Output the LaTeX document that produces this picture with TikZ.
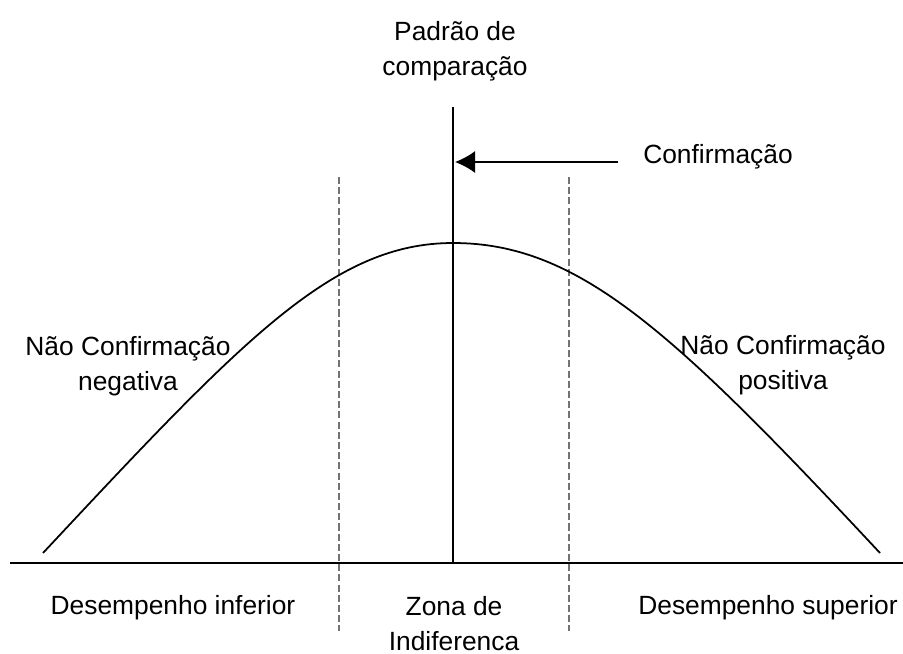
\documentclass[tikz,border=0pt]{standalone}
\usepackage{fontspec}
\setmainfont{Liberation Sans}
\usetikzlibrary{positioning, calc, arrows.meta}

\begin{document}
\begin{tikzpicture}[>={Latex[length=4mm, width=4.4mm]}, x=0.02cm, y=-0.02cm,
    every node/.style={font=\fontsize{15}{19.9}\selectfont, align=center, inner sep=0pt},
    zone/.style={black!55, line width=1.1pt, dash pattern=on 4pt off 1.8pt}]

    \useasboundingbox (0,0) rectangle (903,653);

    \draw(455,51) node (P) {Padrão de\\comparação};
    \draw(718,157) node (C) {Confirmação};
    \draw(128,366) node (Nn) {Não Confirmação\\negativa};
    \draw(783,365) node (Np) {Não Confirmação\\positiva};
    \draw(173,608) node (Di) {Desempenho inferior};
    \draw(454,624) node (Z) {Zona de\\Indiferenca};
    \draw(638,608) node[anchor=west] (Ds) {Desempenho superior};

    % eixos
    \coordinate (L) at (10,563);
    \coordinate (R) at (903,563);
    \coordinate (T) at (453,107);
    \coordinate (O) at (453,563);
    \coordinate (A) at (618,162);
    \coordinate (B) at (455,162);
    \coordinate (Z1) at (339,177);
    \coordinate (Z2) at (339,631);
    \coordinate (Z3) at (569,177);
    \coordinate (Z4) at (569,631);
    \coordinate (H1) at (43,553);
    \coordinate (M) at (453,243);
    \coordinate (H2) at (880,553);

    \draw[line width=1.2pt] (L) -- (R);
    \draw[line width=0.9pt] (T) -- (O);
    \draw[line width=0.9pt, ->] (A) -- (B);
    \draw[zone] (Z1) -- (Z2);
    \draw[zone] (Z3) -- (Z4);

    % curva
    \draw[line width=1pt] (H1) .. controls (243,339) and (333,243) .. (M)
        .. controls (578,243) and (672,330) .. (H2);

\end{tikzpicture}
\end{document}
